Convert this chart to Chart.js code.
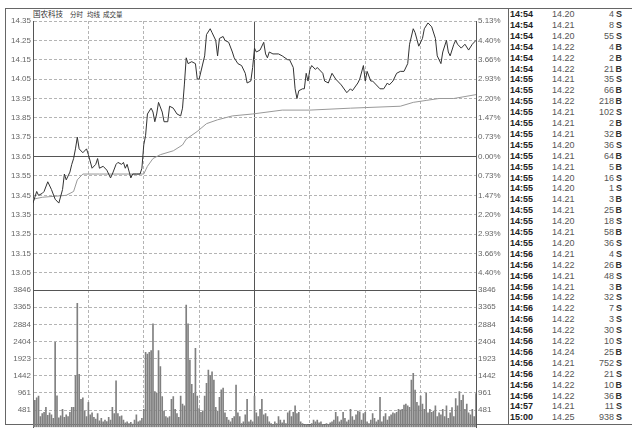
<!DOCTYPE html>
<html>
<head>
<meta charset="utf-8">
<script src="https://cdn.jsdelivr.net/npm/chart.js@4.4.0/dist/chart.umd.min.js"></script>
<style>
  body { margin: 0; background: #fff; width: 632px; height: 431px; overflow: hidden; position: relative; font-family: "Liberation Sans", Arial, sans-serif; }
  #frame { position: absolute; left: 5px; top: 8px; width: 627px; height: 417px; border: 1px solid #666; border-right: none; box-sizing: border-box; }
  #sep { position: absolute; left: 508px; top: 8px; width: 1px; height: 417px; background: #666; }
  .box { position: absolute; }
  .title { position: absolute; top: 8px; font-family: "Noto Sans CJK SC", sans-serif; color: #333; line-height: 12px; }
  .row { position: absolute; left: 510px; width: 118px; height: 12px; line-height: 12px; font-size: 9px; }
  .row span { position: absolute; top: 0; }
  .t { left: 0; font-weight: bold; color: #222; }
  .p { left: 42px; color: #555; }
  .v { right: 14px; color: #555; text-align: right; }
  .s { right: 6px; font-weight: bold; color: #333; }
</style>
</head>
<body>
<div id="frame"></div>
<div id="sep"></div>
<div class="title" style="left:33px;font-size:7.5px">国农科技</div>
<div class="title" style="left:70px;font-size:6.5px">分时</div>
<div class="title" style="left:87px;font-size:6.5px">均线</div>
<div class="title" style="left:103px;font-size:6.5px">成交量</div>
<div class="box" style="left:6px;top:9px;width:502px;height:290px"><canvas id="priceChart" width="502" height="290"></canvas></div>
<div class="box" style="left:6px;top:280px;width:502px;height:154px"><canvas id="volChart" width="502" height="154"></canvas></div>
<div id="trades"></div>
<script>
// minute index from 9:30 (0) to 15:00 (240), lunch break collapsed at 120
const priceMinutes = [0,2,3,5,6,8,10,12,14,16,17,18,20,21,22,23,24,25,27,29,30,32,34,35,36,38,40,42,43,45,46,48,49,50,51,53,54,56,58,59,
  60,61,62,64,65,66,67,68,70,71,73,74,76,78,80,81,82,83,84,86,88,89,90,93,94,96,97,99,100,101,103,104,106,108,109,111,113,115,116,118,119,
  120,121,123,125,126,127,128,130,133,135,138,139,141,142,143,144,146,147,148,149,150,151,153,154,157,158,160,162,164,165,167,170,172,173,
  176,177,179,180,181,183,184,186,188,190,192,193,195,197,199,201,203,204,206,207,209,211,212,214,216,218,219,221,222,224,225,226,228,229,
  230,232,234,236,238,240];
const prices = [13.41,13.47,13.45,13.46,13.47,13.52,13.48,13.43,13.41,13.48,13.56,13.53,13.57,13.61,13.64,13.69,13.75,13.69,13.67,13.69,13.66,13.59,13.61,13.64,13.59,13.60,13.58,13.54,13.56,13.61,13.62,13.61,13.62,13.59,13.61,13.54,13.56,13.56,13.56,13.59,
  13.71,13.76,13.87,13.90,13.88,13.83,13.87,13.93,13.88,13.83,13.83,13.91,13.90,13.87,13.86,13.90,14.02,14.16,14.13,14.14,14.13,14.05,14.05,14.17,14.28,14.31,14.29,14.25,14.17,14.26,14.27,14.25,14.24,14.19,14.16,14.13,14.12,14.08,14.03,14.04,14.11,
  14.21,14.19,14.20,14.24,14.18,14.16,14.19,14.18,14.18,14.17,14.15,14.15,14.11,14.00,13.95,13.99,14.00,14.00,14.08,14.04,14.10,14.12,14.10,14.11,14.08,14.04,14.03,14.08,14.05,14.04,14.02,13.98,14.00,13.99,
  14.03,14.05,14.12,14.04,14.09,14.04,14.04,14.02,14.00,14.00,14.03,14.02,14.04,14.08,14.09,14.09,14.13,14.23,14.31,14.29,14.22,14.26,14.31,14.34,14.32,14.26,14.17,14.13,14.19,14.25,14.19,14.17,14.23,14.25,
  14.23,14.21,14.23,14.20,14.23,14.25];

const avgMinutes = [0,5,18,22,24,27,36,45,54,60,62,65,69,76,81,83,89,94,100,108,119,135,150,172,199,206,213,220,228,240];
const avgPrices = [13.43,13.44,13.45,13.47,13.53,13.56,13.56,13.56,13.56,13.56,13.60,13.64,13.66,13.68,13.71,13.74,13.78,13.82,13.84,13.86,13.87,13.89,13.89,13.90,13.91,13.93,13.94,13.95,13.95,13.97];

// volume per minute, 241 bars
const volumes = [
  2420,750,820,870,300,380,420,560,330,400,
  350,250,2380,880,260,320,500,280,350,300,
  420,560,560,1450,3470,1480,780,820,450,300,
  700,350,400,280,230,380,180,250,150,200,
  160,280,200,560,380,1300,380,300,320,200,
  120,150,100,140,90,200,350,150,180,250,
  500,2100,2050,2100,2150,2900,1000,950,2150,1700,
  860,450,300,260,300,780,860,500,380,280,
  870,650,600,3420,2900,1880,1200,950,2210,870,
  520,420,460,870,1230,1600,1450,1550,1320,560,
  450,840,1050,1100,400,280,200,150,250,300,
  1180,400,300,100,150,350,780,150,200,150,
  870,400,300,500,780,350,380,300,150,100,
  80,150,100,300,200,120,200,100,400,450,
  300,420,600,380,420,150,100,60,80,60,
  50,100,200,150,200,120,150,80,60,100,
  80,120,150,200,420,300,150,200,420,250,
  150,200,500,300,200,350,450,430,200,380,
  420,150,100,200,380,250,150,200,840,150,
  300,380,200,300,350,400,380,420,500,480,
  500,620,650,600,560,1320,1510,1040,700,600,
  870,650,500,950,400,500,420,450,600,300,
  400,350,500,300,600,250,400,550,300,800,
  600,1000,750,900,500,650,400,350,500,300,940
];

const gridMinutes = [0,30,60,90,120,150,180,210,240];
const priceTicks = [14.35,14.25,14.15,14.05,13.95,13.85,13.75,13.65,13.55,13.45,13.35,13.25,13.15,13.05,12.95];
const priceLabels = ['14.35','14.25','14.15','14.05','13.95','13.85','13.75','13.65','13.55','13.45','13.35','13.25','13.15','13.05',''];
const pctLabels = ['5.13%','4.40%','3.66%','2.93%','2.20%','1.47%','0.73%','0.00%','0.73%','1.47%','2.20%','2.93%','3.66%','4.40%',''];
const volTicks = [3846,3365,2884,2404,1923,1442,961,481];
const volLabels = ['3846','3365','2884','2404','1923','1442','961','481'];

const tradeTimes = ['14:54','14:54','14:54','14:54','14:54','14:54','14:55','14:55','14:55','14:55','14:55','14:55','14:55','14:55','14:55','14:55','14:55','14:55','14:55','14:55','14:55','14:55',
  '14:56','14:56','14:56','14:56','14:56','14:56','14:56','14:56','14:56','14:56','14:56','14:56','14:56','14:56','14:57','15:00'];
const tradePrices = ['14.20','14.21','14.20','14.22','14.22','14.22','14.21','14.22','14.22','14.21','14.21','14.21','14.20','14.21','14.21','14.20','14.20','14.21','14.21','14.20','14.21','14.20',
  '14.21','14.22','14.21','14.21','14.22','14.22','14.22','14.22','14.22','14.24','14.21','14.22','14.22','14.22','14.21','14.25'];
const tradeVols = [4,8,55,4,2,21,35,66,218,102,2,32,36,64,5,16,1,3,25,18,58,36,4,26,48,3,32,7,3,30,10,25,752,21,10,36,11,938];
const tradeSides = ['S','S','S','B','B','B','S','B','B','S','B','B','S','B','B','S','S','B','B','S','B','S','S','B','S','B','S','S','S','S','S','B','S','S','B','B','S','S'];

const GRID = '#b4b4b4';
const DARK = '#555';
const NONE = 'rgba(0,0,0,0)';
const tickFont = { family: '"Liberation Sans", Arial, sans-serif', size: 8 };

function xScale() {
  return {
    type: 'linear', min: 0, max: 240, offset: false,
    afterBuildTicks: s => { s.ticks = gridMinutes.map(v => ({ value: v })); },
    ticks: { display: false },
    border: { display: false, dash: c => (c.tick && c.tick.value === 120) ? [] : [3, 2] },
    grid: {
      drawTicks: false, offset: false,
      color: c => {
        if (!c.tick) return GRID;
        if (c.tick.value === 0 || c.tick.value === 240) return NONE;
        return c.tick.value === 120 ? DARK : GRID;
      }
    }
  };
}

function yScale(pos, min, max, ticks, labels, width, solidIndex, hideIndex, drawGrid) {
  return {
    position: pos, min: min, max: max,
    afterBuildTicks: s => { s.ticks = ticks.map(v => ({ value: v })); },
    afterFit: s => { s.width = width; },
    ticks: { autoSkip: false, font: tickFont, color: '#666', padding: 2, callback: (v, i) => labels[i] },
    border: { display: true, color: DARK, dash: c => (c.index === solidIndex) ? [] : [3, 2] },
    grid: {
      display: drawGrid, drawTicks: false,
      color: c => (c.index === solidIndex) ? DARK : (c.index === hideIndex ? NONE : GRID)
    }
  };
}

new Chart(document.getElementById('priceChart'), {
  type: 'line',
  data: {
    datasets: [
      { data: priceMinutes.map((m, i) => ({ x: m, y: prices[i] })), borderColor: '#333', borderWidth: 1, pointRadius: 0, tension: 0, yAxisID: 'y' },
      { data: avgMinutes.map((m, i) => ({ x: m, y: avgPrices[i] })), borderColor: '#999', borderWidth: 1, pointRadius: 0, tension: 0, yAxisID: 'y' }
    ]
  },
  options: {
    responsive: false, animation: false, devicePixelRatio: 1,
    layout: { padding: { top: 12, bottom: 2, left: 0, right: 0 } },
    plugins: { legend: { display: false }, tooltip: { enabled: false } },
    scales: {
      x: xScale(),
      y: yScale('left', 12.95, 14.35, priceTicks, priceLabels, 27, 7, 14, true),
      y2: yScale('right', 12.95, 14.35, priceTicks, pctLabels, 32, 7, 14, false)
    }
  }
});

new Chart(document.getElementById('volChart'), {
  type: 'bar',
  data: {
    datasets: [
      { data: volumes.map((v, i) => ({ x: i, y: v })), backgroundColor: '#808080', barThickness: 1, yAxisID: 'y' }
    ]
  },
  options: {
    responsive: false, animation: false, devicePixelRatio: 1,
    layout: { padding: { top: 10, bottom: 0, left: 0, right: 0 } },
    plugins: { legend: { display: false }, tooltip: { enabled: false } },
    scales: {
      x: xScale(),
      y: yScale('left', 0, 3846, volTicks, volLabels, 27, 0, -1, true),
      y2: yScale('right', 0, 3846, volTicks, volLabels, 32, 0, -1, false)
    }
  }
});

// trade list on the right
const box = document.getElementById('trades');
tradeTimes.forEach((t, i) => {
  const row = document.createElement('div');
  row.className = 'row';
  row.style.top = (8 + i * 10.9) + 'px';
  row.innerHTML = '<span class="t">' + t + '</span><span class="p">' + tradePrices[i] +
    '</span><span class="v">' + tradeVols[i] + '</span><span class="s">' + tradeSides[i] + '</span>';
  box.appendChild(row);
});
</script>
</body>
</html>
